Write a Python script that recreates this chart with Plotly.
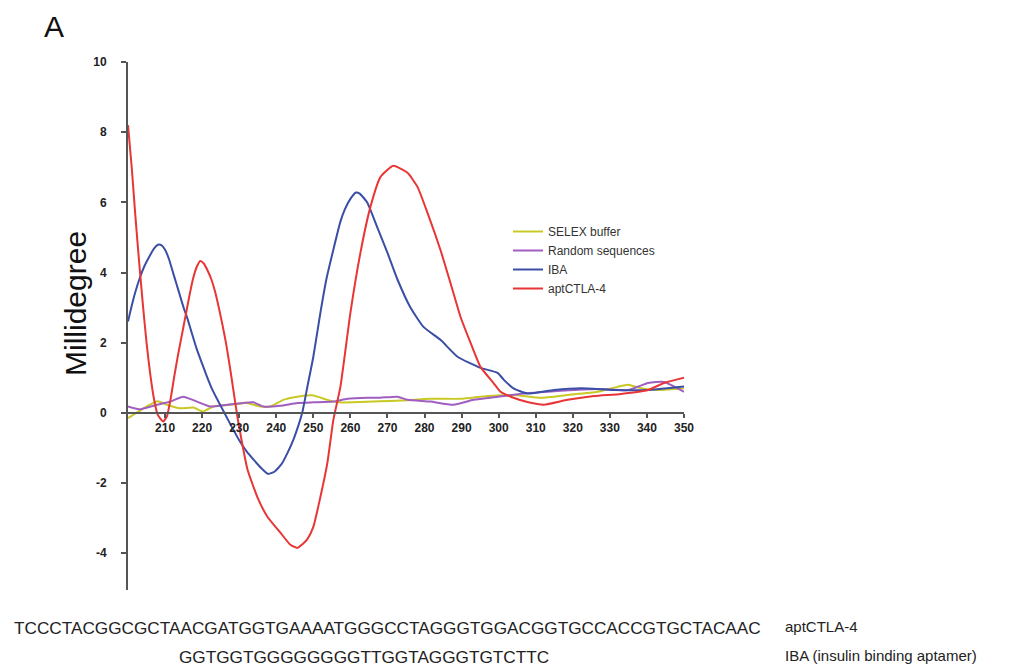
import plotly.graph_objects as go

# ---------------- data ----------------
apt_x = [200, 201, 202, 203, 204, 205, 206, 207, 208, 209.5, 210.5, 211.5, 212.5, 213.5, 214.5, 215.5, 216.5,
         217.5, 218.5, 219.5, 220.5, 221.5, 222.5, 223.5, 224.5, 225.5, 226.5, 227.5, 228.5, 229.5, 230.5,
         232.2, 234.9, 237.6, 241, 243.8, 245.7, 247, 248.4, 250, 251.9,
         253.8, 255.4, 257.3, 260, 262.7, 265.4, 268.1, 271.6, 275.4, 278.1, 280.8, 284.3, 287, 289.7, 292.4,
         295.1, 298.6, 300.5, 304, 308, 312.2, 318.6, 325.7, 333, 340.3, 344.6, 350]
apt_y = [8.2, 7.0, 5.6, 4.3, 3.1, 2.0, 1.1, 0.4, -0.05, -0.25, -0.1, 0.4, 1.05, 1.65, 2.2, 2.75, 3.3,
         3.8, 4.15, 4.33, 4.25, 4.05, 3.8, 3.45, 3.0, 2.5, 1.95, 1.3, 0.6, -0.1, -0.7,
         -1.6, -2.4, -2.96, -3.4, -3.76, -3.85, -3.75, -3.6, -3.25, -2.4,
         -1.42, -0.2, 0.74, 2.85, 4.56, 5.87, 6.72, 7.04, 6.84, 6.44, 5.7, 4.64, 3.7, 2.74, 2.0,
         1.31, 0.85, 0.6, 0.43, 0.3, 0.23, 0.37, 0.48, 0.54, 0.65, 0.85, 1.0]

iba_x = [200, 201, 202, 203.2, 204.5, 206, 207, 208.1, 209, 210, 211, 212, 213, 214, 215, 216, 217, 218.6,
         220, 221.3, 222.5, 224, 226, 228, 230, 232, 234, 236, 237.8, 239.5, 241.5, 243, 244.6, 246, 247,
         248.5, 250, 251.9, 253.5, 255.4, 257.3, 258.5, 260, 261.5, 262.5, 264.5, 267.2, 270, 272.7,
         276.2, 279.7, 284.3, 288.9, 295.1, 299.7, 301.4, 304, 307.8, 314.9, 322.2, 331, 340, 350]
iba_y = [2.6, 3.05, 3.45, 3.85, 4.2, 4.5, 4.68, 4.79, 4.78, 4.65, 4.4, 4.05, 3.7, 3.35, 3.0, 2.7, 2.35, 1.8,
         1.4, 1.03, 0.72, 0.4, 0.0, -0.4, -0.78, -1.1, -1.35, -1.58, -1.74, -1.68, -1.45, -1.15, -0.77, -0.35, 0.0,
         0.8, 1.6, 2.85, 3.8, 4.65, 5.45, 5.8, 6.1, 6.28, 6.25, 6.0, 5.3, 4.56, 3.8,
         3.0, 2.45, 2.08, 1.6, 1.28, 1.14, 0.94, 0.7, 0.55, 0.65, 0.7, 0.65, 0.65, 0.75]

selex_x = [200, 205, 208, 210.5, 214, 217.6, 220.3, 223, 227.6, 232, 235.7, 238.4, 241.9, 245.7, 249.7,
           253.8, 256.5, 260.8, 268, 273.5, 281.6, 289.7, 297, 304, 311.4, 318.6, 326.7, 332, 334.9,
           338.4, 343, 350]
selex_y = [-0.15, 0.18, 0.33, 0.23, 0.13, 0.15, 0.04, 0.18, 0.23, 0.28, 0.18, 0.18, 0.37, 0.46, 0.5,
           0.37, 0.3, 0.3, 0.33, 0.35, 0.4, 0.4, 0.48, 0.51, 0.43, 0.51, 0.6, 0.74, 0.8,
           0.7, 0.65, 0.7]

rand_x = [200, 203, 207.8, 211.4, 214.9, 218.6, 222.2, 226.8, 231, 233.8, 236.5, 241, 245.7, 250, 255.4,
          259.2, 264.6, 268, 272.7, 275.4, 281.6, 287.8, 293.2, 299.7, 306.8, 313.2, 320.3, 327.6, 334.9,
          340.3, 344.6, 350]
rand_y = [0.18, 0.1, 0.23, 0.32, 0.46, 0.32, 0.18, 0.23, 0.28, 0.3, 0.18, 0.2, 0.28, 0.3, 0.32,
          0.4, 0.43, 0.43, 0.46, 0.37, 0.32, 0.23, 0.37, 0.46, 0.55, 0.6, 0.65, 0.68, 0.65,
          0.85, 0.88, 0.6]

x_ticks = [210, 220, 230, 240, 250, 260, 270, 280, 290, 300, 310, 320, 330, 340, 350]
y_ticks = [-4, -2, 0, 2, 4, 6, 8, 10]

seq_apt = "TCCCTACGGCGCTAACGATGGTGAAAATGGGCCTAGGGTGGACGGTGCCACCGTGCTACAAC"
seq_iba = "GGTGGTGGGGGGGGTTGGTAGGGTGTCTTC"
label_apt = "aptCTLA-4"
label_iba = "IBA (insulin binding aptamer)"

# ---------------- figure ----------------
W, H = 1010, 667
L, R, T, B = 128, 326, 62, 77
PW, PH = W - L - R, H - T - B
YMIN, YMAX = -5.05, 10


def px(xp):
    return (xp - L) / PW


def py(yp):
    return (H - B - yp) / PH


fig = go.Figure()
series = [
    ("SELEX buffer", selex_x, selex_y, "#C9C824"),
    ("Random sequences", rand_x, rand_y, "#A05EC0"),
    ("IBA", iba_x, iba_y, "#3A4EA6"),
    ("aptCTLA-4", apt_x, apt_y, "#E83535"),
]
for name, xs, ys, col in series:
    fig.add_trace(go.Scatter(x=xs, y=ys, name=name, mode="lines",
                             line=dict(color=col, width=2, shape="spline", smoothing=0.5)))

FONT = "Arial, Liberation Sans, sans-serif"
axis_font = dict(family=FONT, size=12, color="#222")
fig.update_layout(
    width=W, height=H,
    margin=dict(l=L, r=R, t=T, b=B, pad=0),
    paper_bgcolor="white", plot_bgcolor="white",
    showlegend=True,
    legend=dict(x=px(508), y=py(217), xanchor="left", yanchor="top",
                font=dict(family=FONT, size=12, color="#333"),
                bgcolor="rgba(0,0,0,0)", itemwidth=30, tracegroupgap=0),
    xaxis=dict(range=[200, 350], tickvals=x_ticks, ticktext=[f"<b>{v}</b>" for v in x_ticks],
               showgrid=False, zeroline=False, showline=True, linecolor="#555", linewidth=2,
               ticks="outside", ticklen=4, tickwidth=1.5, tickcolor="#555",
               anchor="free", position=(0 - YMIN) / (YMAX - YMIN), tickfont=axis_font),
    yaxis=dict(range=[YMIN, YMAX], tickvals=y_ticks, ticktext=[f"<b>{v}</b>" for v in y_ticks],
               showgrid=False, zeroline=False, showline=True, linecolor="#555", linewidth=2,
               ticks="outside", ticklen=5, tickwidth=1.5, tickcolor="#555",
               ticklabelstandoff=12, tickfont=axis_font),
)

ann = [
    dict(text="A", x=px(42), y=py(26), xanchor="left", yanchor="middle",
         font=dict(family=FONT, size=30, color="#111")),
    dict(text="Millidegree", x=px(75), y=py(304), xanchor="center", yanchor="middle", textangle=-90,
         font=dict(family=FONT, size=30, color="#111")),
    dict(text=seq_apt, x=px(12), y=py(628), xanchor="left", yanchor="middle",
         font=dict(family=FONT, size=17.2, color="#222")),
    dict(text=seq_iba, x=px(177), y=py(657), xanchor="left", yanchor="middle",
         font=dict(family=FONT, size=17.2, color="#222")),
    dict(text=label_apt, x=px(783), y=py(626), xanchor="left", yanchor="middle",
         font=dict(family=FONT, size=15, color="#222")),
    dict(text=label_iba, x=px(783), y=py(655), xanchor="left", yanchor="middle",
         font=dict(family=FONT, size=15, color="#222")),
]
for a in ann:
    fig.add_annotation(xref="paper", yref="paper", showarrow=False, **a)

fig.write_html("out.html", config={"displayModeBar": False},
               post_script="document.body.style.margin='0';document.body.style.overflow='hidden';")
